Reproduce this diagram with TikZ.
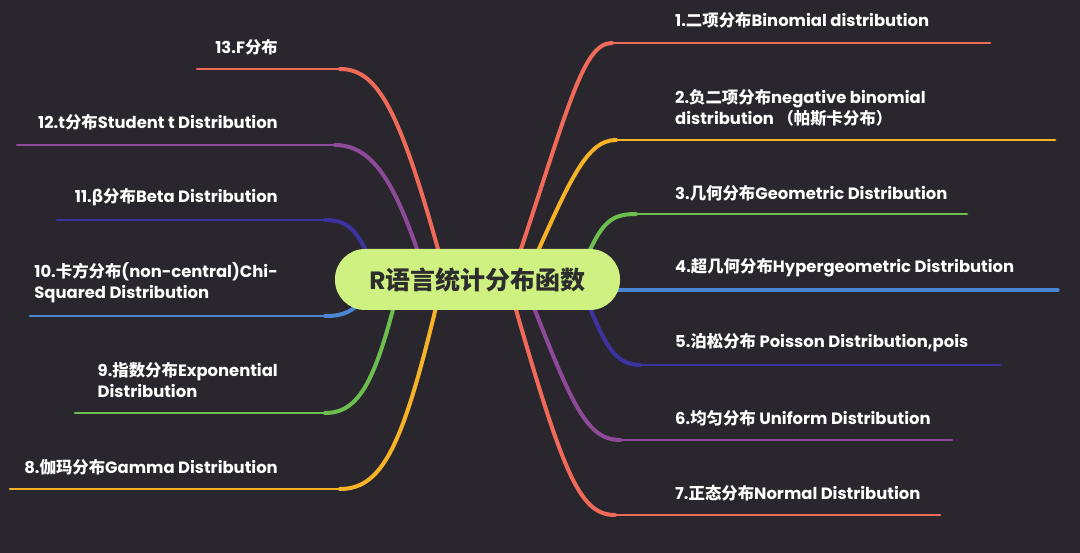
\documentclass[tikz,border=0pt]{standalone}
\usepackage{fontspec}
\setmainfont{Poppins}
\newfontfamily\cjkf{Noto Sans CJK SC}
\newcommand{\zh}[1]{{\cjkf #1}}
\definecolor{bg}{RGB}{42,38,46}
\definecolor{cred}{RGB}{240,106,90}
\definecolor{corange}{RGB}{247,179,40}
\definecolor{cgreen}{RGB}{108,190,78}
\definecolor{cblue}{RGB}{74,134,212}
\definecolor{cindigo}{RGB}{60,50,160}
\definecolor{cpurple}{RGB}{142,74,152}
\definecolor{cfill}{RGB}{206,241,130}
\definecolor{ctext}{RGB}{45,45,45}
\begin{document}
\begin{tikzpicture}[x=1pt,y=-1pt,
  curve/.style={line width=4pt,line cap=round},
  hline/.style={line width=2.8pt,line cap=round},
  lbl/.style={text=white,font=\bfseries\fontsize{16.4}{21}\selectfont,inner sep=0pt,align=left},
  hub/.style={fill=cfill,rounded corners=30pt,minimum width=285pt,minimum height=61pt,inner sep=0pt,text=ctext,font=\bfseries\fontsize{25}{30}\selectfont}]
\fill[bg] (0,0) rectangle (1080,553);
\useasboundingbox (0,0) rectangle (1080,553);
% coordinates: start, corner, end
\coordinate (s1) at (510,282); \coordinate (c1) at (612,43);  \coordinate (e1) at (990,43);
\coordinate (s2) at (524,282); \coordinate (c2) at (616,140); \coordinate (e2) at (1055,140);
\coordinate (s3) at (580,272); \coordinate (c3) at (636,214); \coordinate (e3) at (967,214);
\coordinate (s4) at (590,290); \coordinate (e4) at (1058,290);
\coordinate (s5) at (580,285); \coordinate (c5) at (640,365); \coordinate (e5) at (1000,365);
\coordinate (s6) at (524,282); \coordinate (c6) at (620,440); \coordinate (e6) at (952,440);
\coordinate (s7) at (508,282); \coordinate (c7) at (615,515); \coordinate (e7) at (940,515);
\coordinate (s13) at (447,282); \coordinate (c13) at (340,69); \coordinate (e13) at (197,69);
\coordinate (s12) at (428,282); \coordinate (c12) at (335,145); \coordinate (e12) at (17,145);
\coordinate (s11) at (380,282); \coordinate (c11) at (325,220); \coordinate (e11) at (57,220);
\coordinate (s10) at (372,292); \coordinate (c10) at (325,316); \coordinate (e10) at (30,316);
\coordinate (s9) at (400,282); \coordinate (c9) at (325,413); \coordinate (e9) at (75,413);
\coordinate (s8) at (442,282); \coordinate (c8) at (340,489); \coordinate (e8) at (10,489);
% right branches
\draw[curve,cred] (s1) .. controls (568,110) and (582,43) .. (c1);
\draw[hline,cred] (c1) -- (e1);
\draw[curve,corange] (s2) .. controls (568,185) and (585,140) .. (c2);
\draw[hline,corange] (c2) -- (e2);
\draw[curve,cgreen] (s3) .. controls (600,226) and (607,214) .. (c3);
\draw[hline,cgreen] (c3) -- (e3);
\draw[hline,cblue,line width=3.2pt] (s4) -- (e4);
\draw[curve,cindigo] (s5) .. controls (602,335) and (610,365) .. (c5);
\draw[hline,cindigo] (c5) -- (e5);
\draw[curve,cpurple] (s6) .. controls (570,400) and (585,440) .. (c6);
\draw[hline,cpurple] (c6) -- (e6);
\draw[curve,cred] (s7) .. controls (562,470) and (578,515) .. (c7);
\draw[hline,cred] (c7) -- (e7);
% left branches
\draw[curve,cred] (s13) .. controls (402,115) and (380,69) .. (c13);
\draw[hline,cred] (c13) -- (e13);
\draw[curve,cpurple] (s12) .. controls (400,195) and (378,145) .. (c12);
\draw[hline,cpurple] (c12) -- (e12);
\draw[curve,cindigo] (s11) .. controls (360,236) and (354,220) .. (c11);
\draw[hline,cindigo] (c11) -- (e11);
\draw[curve,cblue] (s10) .. controls (352,312) and (345,316) .. (c10);
\draw[hline,cblue] (c10) -- (e10);
\draw[curve,cgreen] (s9) .. controls (376,380) and (360,413) .. (c9);
\draw[hline,cgreen] (c9) -- (e9);
\draw[curve,corange] (s8) .. controls (405,440) and (385,489) .. (c8);
\draw[hline,corange] (c8) -- (e8);
% hub
\node[hub] (hub) at (477.5,279.5) {R\zh{语言统计分布函数}};
% labels right
\node[lbl,anchor=west] (t1) at (675,20) {1.\zh{二项分布}Binomial distribution};
\node[lbl,anchor=west] (t2) at (675,107.5) {2.\zh{负二项分布}negative binomial\\distribution \zh{（帕斯卡分布）}};
\node[lbl,anchor=west] (t3) at (675,193) {3.\zh{几何分布}Geometric Distribution};
\node[lbl,anchor=west] (t4) at (675,268) {4.\zh{超几何分布}Hypergeometric Distribution};
\node[lbl,anchor=west] (t5) at (675,343) {5.\zh{泊松分布} Poisson Distribution,pois};
\node[lbl,anchor=west] (t6) at (675,418) {6.\zh{均匀分布} Uniform Distribution};
\node[lbl,anchor=west] (t7) at (675,493) {7.\zh{正态分布}Normal Distribution};
% labels left
\node[lbl,anchor=east] (t13) at (278,47) {13.F\zh{分布}};
\node[lbl,anchor=east] (t12) at (278,122) {12.t\zh{分布}Student t Distribution};
\node[lbl,anchor=east] (t11) at (278,197) {11.\zh{β分布}Beta Distribution};
\node[lbl,anchor=east] (t10) at (278,283) {10.\zh{卡方分布}(non-central)Chi-\\Squared Distribution};
\node[lbl,anchor=east] (t9) at (278,380.5) {9.\zh{指数分布}Exponential\\Distribution};
\node[lbl,anchor=east] (t8) at (278,467) {8.\zh{伽玛分布}Gamma Distribution};
\end{tikzpicture}
\end{document}
